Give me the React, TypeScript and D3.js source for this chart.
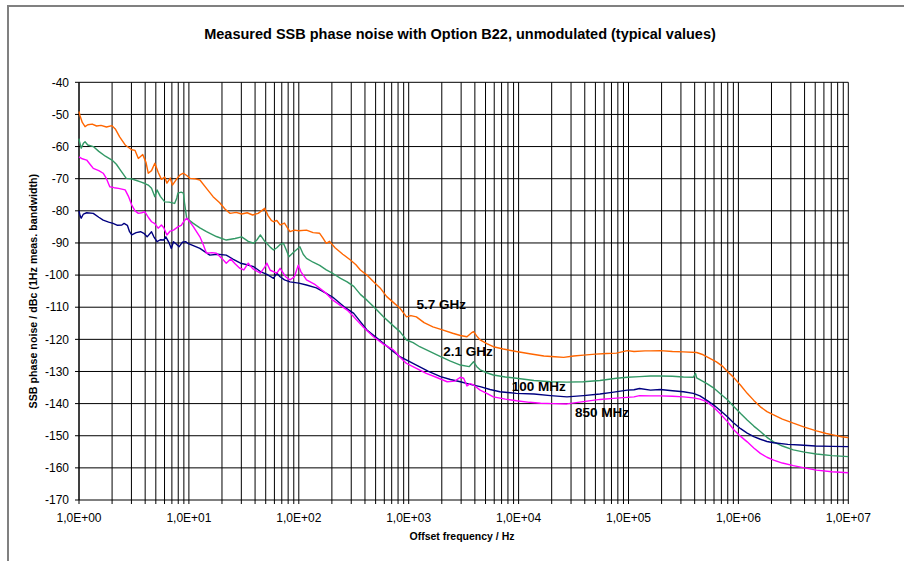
import React from "react";
import * as d3 from "d3";

// [log10(offset frequency / Hz), SSB phase noise dBc]
const ghz57: [number, number][] = [
  [0.0, -49.1], [0.01, -50.5], [0.03, -52.5], [0.055, -53.8], [0.08, -53.2], [0.12, -53.0], [0.16, -53.6],
  [0.2, -53.4], [0.25, -53.9], [0.3, -53.5], [0.33, -54.5], [0.37, -57.0], [0.42, -59.5], [0.48, -61.0],
  [0.51, -61.2], [0.54, -63.7], [0.58, -62.5], [0.61, -65.0], [0.63, -68.3], [0.66, -67.5], [0.69, -65.2],
  [0.72, -68.0], [0.75, -70.2], [0.78, -69.5], [0.8, -71.4], [0.83, -69.8], [0.85, -72.0], [0.88, -70.5],
  [0.92, -68.8], [0.95, -68.3], [0.98, -69.0], [1.01, -69.9], [1.05, -70.0], [1.1, -70.4], [1.16, -73.0],
  [1.22, -75.6], [1.28, -77.5], [1.33, -79.5], [1.375, -80.8], [1.43, -80.5], [1.48, -81.0], [1.53, -80.6],
  [1.58, -81.3], [1.63, -80.8], [1.66, -80.0], [1.69, -79.2], [1.72, -81.5], [1.75, -83.0], [1.77, -83.4],
  [1.8, -83.0], [1.83, -84.4], [1.87, -83.8], [1.9, -85.5], [1.92, -86.5], [1.96, -86.0], [2.0, -86.2],
  [2.07, -86.0], [2.13, -86.8], [2.19, -87.0], [2.22, -88.5], [2.25, -90.1], [2.28, -89.5], [2.33, -91.5],
  [2.4, -93.5], [2.47, -95.3], [2.52, -96.8], [2.56, -98.4], [2.62, -100.0], [2.68, -102.1], [2.74, -104.0],
  [2.8, -106.7], [2.86, -108.5], [2.92, -110.3], [2.98, -113.0], [3.02, -112.6], [3.07, -113.0], [3.14, -114.8],
  [3.22, -116.1], [3.3, -117.0], [3.4, -118.1], [3.47, -118.8], [3.53, -119.2], [3.57, -118.0], [3.59, -117.6],
  [3.62, -119.0], [3.65, -120.2], [3.71, -121.3], [3.77, -122.3], [3.86, -123.0], [3.98, -123.8], [4.1, -124.5],
  [4.23, -125.2], [4.33, -125.4], [4.41, -125.6], [4.5, -125.2], [4.59, -124.9], [4.7, -124.6], [4.8, -124.4],
  [4.89, -124.3], [4.99, -123.5], [5.05, -123.8], [5.15, -123.6], [5.2, -123.6], [5.29, -123.5], [5.4, -123.8],
  [5.5, -123.9], [5.62, -124.1], [5.68, -124.8], [5.74, -125.9], [5.8, -127.0], [5.86, -128.5], [5.9, -130.0],
  [5.95, -131.6], [6.02, -134.3], [6.08, -136.8], [6.14, -139.0], [6.2, -141.0], [6.26, -142.5], [6.32, -143.5],
  [6.4, -144.8], [6.5, -146.1], [6.6, -147.3], [6.71, -148.5], [6.8, -149.3], [6.87, -149.8], [6.94, -150.3],
  [7.0, -150.6],
];

const ghz21: [number, number][] = [
  [0.0, -57.5], [0.005, -58.5], [0.02, -60.5], [0.04, -59.0], [0.055, -58.5], [0.08, -59.5], [0.13, -60.0],
  [0.18, -61.5], [0.24, -63.0], [0.3, -64.2], [0.34, -65.5], [0.38, -67.5], [0.43, -69.9], [0.47, -70.0],
  [0.51, -70.4], [0.56, -71.0], [0.6, -71.5], [0.63, -72.0], [0.66, -73.0], [0.69, -75.6], [0.71, -73.5],
  [0.74, -75.5], [0.78, -77.2], [0.82, -77.3], [0.87, -77.7], [0.89, -76.0], [0.9, -74.5], [0.93, -74.2],
  [0.95, -74.5], [0.96, -77.5], [0.98, -82.3], [1.04, -83.9], [1.1, -85.3], [1.16, -86.5], [1.25, -88.0],
  [1.34, -89.1], [1.42, -88.6], [1.48, -88.1], [1.54, -89.5], [1.59, -90.1], [1.62, -89.0], [1.65, -87.5],
  [1.69, -89.5], [1.74, -91.3], [1.77, -92.2], [1.8, -91.5], [1.83, -90.5], [1.86, -90.1], [1.89, -92.5],
  [1.91, -94.3], [1.95, -93.0], [2.01, -91.2], [2.04, -93.5], [2.07, -94.8], [2.13, -96.0], [2.19, -97.0],
  [2.25, -98.4], [2.31, -99.5], [2.38, -101.0], [2.44, -102.1], [2.5, -103.5], [2.56, -106.0], [2.62, -107.8],
  [2.7, -110.5], [2.77, -113.0], [2.85, -115.5], [2.92, -117.6], [2.98, -120.2], [3.04, -121.0], [3.1, -122.3],
  [3.2, -123.9], [3.29, -125.4], [3.38, -126.8], [3.47, -128.0], [3.55, -128.5], [3.59, -127.0], [3.62, -128.5],
  [3.65, -129.5], [3.71, -130.4], [3.77, -131.1], [3.88, -131.7], [3.98, -132.1], [4.14, -132.8], [4.29, -133.2],
  [4.44, -133.3], [4.59, -133.2], [4.74, -132.8], [4.89, -132.1], [4.99, -131.8], [5.1, -131.6], [5.2, -131.4],
  [5.29, -131.4], [5.4, -131.5], [5.5, -131.7], [5.59, -131.8], [5.61, -130.6], [5.62, -132.0], [5.71, -133.7],
  [5.77, -135.0], [5.83, -136.8], [5.9, -138.8], [5.96, -141.0], [6.02, -143.1], [6.08, -145.1], [6.14, -147.0],
  [6.2, -148.7], [6.26, -150.5], [6.32, -151.9], [6.4, -153.2], [6.5, -154.4], [6.6, -155.1], [6.71, -155.7],
  [6.85, -156.2], [7.0, -156.5],
];

const mhz100: [number, number][] = [
  [0.0, -80.0], [0.01, -81.5], [0.02, -82.3], [0.04, -81.0], [0.07, -80.6], [0.13, -80.8], [0.18, -82.0],
  [0.22, -82.9], [0.27, -83.5], [0.31, -83.9], [0.35, -84.5], [0.39, -84.4], [0.41, -83.9], [0.44, -84.5],
  [0.46, -86.5], [0.48, -87.5], [0.52, -86.8], [0.56, -86.5], [0.59, -87.0], [0.62, -88.1], [0.66, -86.5],
  [0.68, -88.0], [0.71, -89.6], [0.74, -89.0], [0.77, -89.1], [0.79, -88.1], [0.82, -90.0], [0.84, -91.7],
  [0.86, -89.6], [0.89, -90.5], [0.91, -91.2], [0.94, -89.8], [0.97, -89.6], [0.99, -90.1], [1.04, -90.8],
  [1.1, -91.7], [1.19, -93.8], [1.26, -93.5], [1.34, -93.8], [1.4, -95.0], [1.47, -96.3], [1.53, -96.8],
  [1.59, -97.4], [1.65, -98.9], [1.71, -99.8], [1.77, -101.0], [1.8, -99.4], [1.83, -100.5], [1.87, -101.5],
  [1.92, -102.1], [2.0, -102.5], [2.07, -103.1], [2.16, -104.0], [2.25, -105.7], [2.31, -106.9], [2.41, -109.8],
  [2.5, -111.9], [2.56, -114.5], [2.62, -117.1], [2.7, -119.3], [2.77, -121.2], [2.85, -123.5], [2.92, -125.4],
  [3.0, -126.8], [3.07, -128.0], [3.18, -130.0], [3.29, -131.6], [3.38, -132.5], [3.47, -133.2], [3.56, -134.0],
  [3.65, -134.7], [3.74, -135.6], [3.83, -136.3], [3.98, -136.8], [4.14, -137.0], [4.29, -137.5], [4.44, -137.9],
  [4.59, -137.5], [4.74, -137.0], [4.85, -136.5], [4.99, -135.8], [5.05, -135.7], [5.1, -135.3], [5.2, -135.8],
  [5.29, -135.6], [5.4, -136.0], [5.5, -136.3], [5.59, -136.8], [5.65, -137.6], [5.71, -138.9], [5.77, -140.3],
  [5.83, -142.0], [5.9, -144.1], [5.96, -146.1], [6.02, -147.8], [6.08, -149.2], [6.14, -150.3], [6.2, -151.1],
  [6.26, -151.8], [6.32, -152.2], [6.45, -152.7], [6.56, -152.9], [6.7, -153.2], [6.85, -153.3], [7.0, -153.4],
];

const mhz850: [number, number][] = [
  [0.0, -63.2], [0.03, -63.8], [0.07, -64.2], [0.1, -65.5], [0.13, -66.8], [0.18, -67.5], [0.22, -68.3],
  [0.25, -70.0], [0.28, -72.5], [0.32, -72.8], [0.36, -73.0], [0.42, -73.5], [0.45, -75.5], [0.48, -78.2],
  [0.51, -80.0], [0.54, -80.8], [0.57, -80.6], [0.6, -80.3], [0.63, -82.0], [0.66, -83.4], [0.69, -84.0],
  [0.72, -85.4], [0.75, -84.4], [0.77, -85.2], [0.8, -87.5], [0.83, -86.3], [0.86, -86.0], [0.9, -85.0],
  [0.93, -84.5], [0.96, -83.0], [0.98, -82.3], [1.01, -83.5], [1.04, -84.9], [1.1, -88.1], [1.13, -90.5],
  [1.16, -93.2], [1.21, -93.0], [1.25, -93.2], [1.3, -94.8], [1.34, -96.3], [1.38, -95.0], [1.42, -96.5],
  [1.46, -97.8], [1.5, -98.4], [1.54, -96.3], [1.58, -98.0], [1.65, -99.4], [1.69, -97.5], [1.71, -96.3],
  [1.74, -98.5], [1.8, -99.4], [1.83, -97.9], [1.88, -100.5], [1.92, -101.5], [1.96, -100.5], [1.995, -96.9],
  [2.02, -99.0], [2.07, -101.5], [2.15, -103.0], [2.25, -105.7], [2.31, -107.8], [2.44, -110.9], [2.5, -113.0],
  [2.59, -116.3], [2.68, -119.2], [2.77, -121.5], [2.86, -123.3], [2.92, -125.5], [2.98, -127.5], [3.07, -129.0],
  [3.16, -130.6], [3.25, -131.8], [3.35, -133.2], [3.42, -133.0], [3.47, -131.8], [3.5, -132.1], [3.53, -134.5],
  [3.56, -133.8], [3.59, -134.2], [3.65, -135.8], [3.71, -136.8], [3.77, -137.9], [3.88, -138.6], [3.98, -139.1],
  [4.1, -139.6], [4.2, -139.9], [4.32, -140.0], [4.44, -140.1], [4.59, -139.4], [4.74, -138.7], [4.89, -138.3],
  [5.05, -137.9], [5.1, -137.5], [5.2, -137.6], [5.29, -137.6], [5.4, -137.7], [5.5, -137.9], [5.59, -138.2],
  [5.65, -138.6], [5.71, -139.4], [5.77, -141.0], [5.83, -143.0], [5.9, -145.6], [5.96, -148.2], [6.02, -150.2],
  [6.08, -151.9], [6.14, -153.8], [6.2, -155.5], [6.26, -156.7], [6.32, -157.6], [6.4, -158.5], [6.5, -159.3],
  [6.6, -160.0], [6.71, -160.7], [6.85, -161.2], [7.0, -161.5],
];

const seriesNames = ["5.7 GHz", "2.1 GHz", "100 MHz", "850 MHz"];
const seriesData = [ghz57, ghz21, mhz100, mhz850];
const seriesColors = ["#FF6600", "#339966", "#000080", "#FF00FF"];
// label anchors [log10 f, dB]
const labelAnchors: [number, number][] = [[3.07, -110.6], [3.315, -125.1], [3.937, -136.0], [4.513, -144.1]];

const xTickLabels = ["1,0E+00", "1,0E+01", "1,0E+02", "1,0E+03", "1,0E+04", "1,0E+05", "1,0E+06", "1,0E+07"];
const yTicks = [-40, -50, -60, -70, -80, -90, -100, -110, -120, -130, -140, -150, -160, -170];

const title = "Measured SSB phase noise with Option B22, unmodulated (typical values)";
const xTitle = "Offset frequency / Hz";
const yTitle = "SSB phase noise / dBc (1Hz meas. bandwidth)";

const W = 904;
const H = 561;
const plot = { left: 79, right: 848.3, top: 82.3, bottom: 500 };
const FONT = "'Liberation Sans', Arial, Helvetica, sans-serif";

export default function App() {
  const x = d3.scaleLog().domain([1, 1e7]).range([plot.left, plot.right]);
  const y = d3.scaleLinear().domain([-170, -40]).range([plot.bottom, plot.top]);

  const minor: number[] = [];
  for (let e = 0; e < 7; e++) {
    for (let m = 1; m <= 10; m++) minor.push(m * Math.pow(10, e));
  }
  const gridX = Array.from(new Set(minor));

  const line = d3
    .line<[number, number]>()
    .x((d) => x(Math.pow(10, d[0])))
    .y((d) => y(d[1]));

  return (
    <svg
      width={W}
      height={H}
      style={{ position: "absolute", left: 0, top: 0, background: "#fff" }}
      fontFamily={FONT}
    >
      <rect x={0} y={0} width={W} height={H} fill="#fff" />
      {/* chart border */}
      <line x1={7} y1={6} x2={W} y2={6} stroke="#808080" strokeWidth={2} />
      <line x1={8} y1={5} x2={8} y2={H} stroke="#808080" strokeWidth={2} />

      <text x={460} y={39} textAnchor="middle" fontSize={14.5} fontWeight="bold" fill="#000">
        {title}
      </text>

      {/* horizontal grid + y ticks */}
      {yTicks.map((t) => (
        <g key={"y" + t}>
          <line x1={plot.left} x2={plot.right} y1={y(t)} y2={y(t)} stroke="#000" strokeWidth={1} />
          <line x1={plot.left - 4} x2={plot.left} y1={y(t)} y2={y(t)} stroke="#000" strokeWidth={1} />
          <text x={69} y={y(t) + 4.2} textAnchor="end" fontSize={12} fill="#000">
            {t}
          </text>
        </g>
      ))}

      {/* vertical grid + x ticks */}
      {gridX.map((f) => (
        <line key={"x" + f} x1={x(f)} x2={x(f)} y1={plot.top} y2={plot.bottom + 4} stroke="#000" strokeWidth={1} />
      ))}
      <line x1={plot.left} x2={plot.left} y1={plot.top} y2={plot.bottom} stroke="#000" strokeWidth={1} />

      {xTickLabels.map((lab, i) => (
        <text key={lab} x={x(Math.pow(10, i))} y={522} textAnchor="middle" fontSize={12} fill="#000">
          {lab}
        </text>
      ))}

      <text x={462} y={540} textAnchor="middle" fontSize={10.5} fontWeight="bold" fill="#000">
        {xTitle}
      </text>
      <text
        transform={`translate(37, ${(plot.top + plot.bottom) / 2}) rotate(-90)`}
        textAnchor="middle"
        fontSize={10.7}
        fontWeight="bold"
        fill="#000"
      >
        {yTitle}
      </text>

      {/* series */}
      {seriesData.map((d, i) => (
        <path key={seriesNames[i]} d={line(d) || ""} fill="none" stroke={seriesColors[i]} strokeWidth={1.4} strokeLinejoin="round" />
      ))}

      {seriesNames.map((n, i) => (
        <text
          key={"lab" + n}
          x={x(Math.pow(10, labelAnchors[i][0]))}
          y={y(labelAnchors[i][1])}
          fontSize={13.5}
          fontWeight="bold"
          fill="#000"
        >
          {n}
        </text>
      ))}
    </svg>
  );
}
